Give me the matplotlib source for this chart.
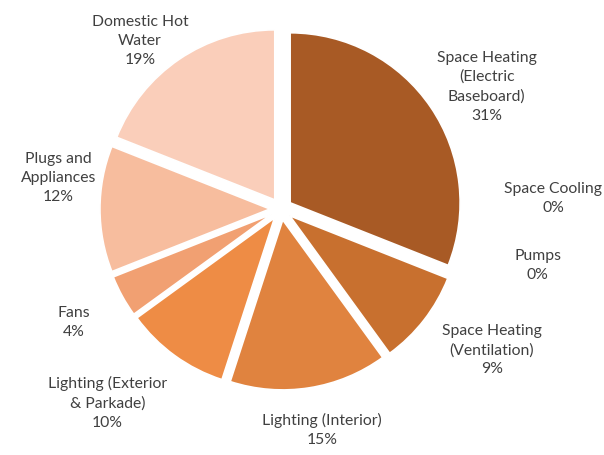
import matplotlib
matplotlib.use("Agg")
import matplotlib.pyplot as plt
import numpy as np

# End-use energy breakdown
categories = [
    "Space Heating\n(Electric\nBaseboard)",
    "Space Cooling",
    "Pumps",
    "Space Heating\n(Ventilation)",
    "Lighting (Interior)",
    "Lighting (Exterior\n& Parkade)",
    "Fans",
    "Plugs and\nAppliances",
    "Domestic Hot\nWater",
]
shares = [31, 0, 0, 9, 15, 10, 4, 12, 19]
colors = ["#A85A25", "#B86528", "#C06A2B", "#C8702F", "#E0833F",
          "#EE8C45", "#F1A072", "#F7BD9E", "#FACEBA"]

# label anchor points (axes data units, pie radius = 1)
label_xy = [(1.21, 0.72), (1.60, 0.06), (1.51, -0.33), (1.24, -0.83),
            (0.24, -1.30), (-1.02, -1.14), (-1.22, -0.665),
            (-1.31, 0.18), (-0.83, 0.99)]

fig = plt.figure(figsize=(6.04, 4.55), dpi=100)
ax = fig.add_axes([0, 0, 1, 1])

ax.pie(shares, colors=colors, startangle=90, counterclock=False,
       explode=[0.065] * len(shares), radius=1.0,
       wedgeprops=dict(edgecolor="white", linewidth=1.2))

for name, val, (x, y) in zip(categories, shares, label_xy):
    ax.text(x, y, f"{name}\n{val}%", ha="center", va="center",
            fontsize=11.3, family="Lato", color="#404040", linespacing=1.45)

cx, cy, scale = 281, 209, 170
ax.set_xlim(-cx / scale, (604 - cx) / scale)
ax.set_ylim(-(455 - cy) / scale, cy / scale)
ax.set_aspect("auto")
ax.axis("off")

fig.savefig("out.png", dpi=100)
